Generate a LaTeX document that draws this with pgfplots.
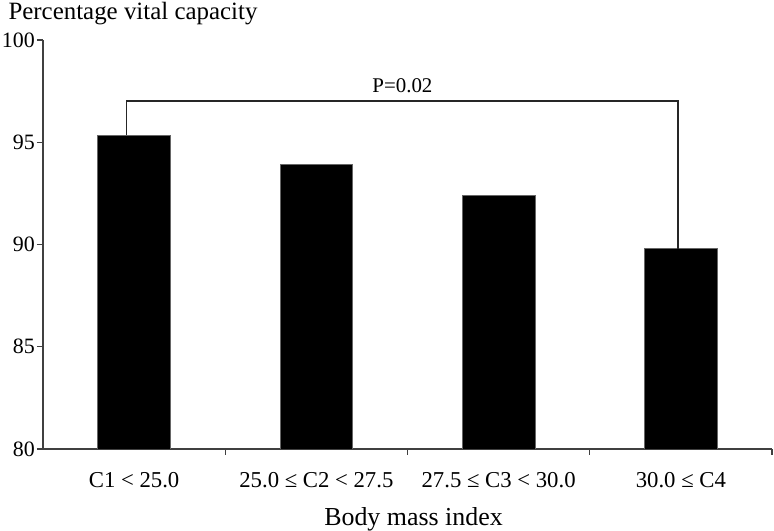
\documentclass[border=0pt]{standalone}
\usepackage{pgfplots}
\pgfplotsset{compat=1.18}
\usepackage{fontspec}
\setmainfont{Liberation Serif}
\begin{document}
\begin{tikzpicture}[x=1bp,y=1bp]
\path[use as bounding box] (-43,-82) rectangle (731,449);
\begin{axis}[
  at={(0,0)}, anchor=south west,
  scale only axis, width=729bp, height=409bp,
  xmin=-0.5, xmax=3.5, ymin=80, ymax=100,
  axis x line=bottom, axis y line=left,
  axis line style={-, line width=1.1bp, black!75},
  tick align=outside,
  major tick length=6bp,
  tick style={line width=1.1bp, black!75},
  ytick={80,85,90,95,100},
  /pgf/number format/assume math mode=true,
  yticklabel style={font=\fontsize{22}{22}\selectfont, inner sep=2bp},
  xtick={0.5,1.5,2.5,3.5},
  xticklabels={},
  extra x ticks={0,1,2,3},
  extra x tick labels={C1 < 25.0, 25.0 ≤ C2 < 27.5, 27.5 ≤ C3 < 30.0, 30.0 ≤ C4},
  extra x tick style={major tick length=0pt, tick style={draw=none},
    tick label style={anchor=base, yshift=-39bp, font=\fontsize{22.8}{22.8}\selectfont}},
  xlabel={Body mass index},
  xlabel style={at={(axis description cs:0.5,0)}, anchor=base, yshift=-77bp, xshift=6bp,
    font=\fontsize{26}{26}\selectfont},
  ylabel={Percentage vital capacity},
  ylabel style={rotate=-90, at={(axis description cs:0,1)}, anchor=base west,
    xshift=-38bp, yshift=20bp, font=\fontsize{25}{25}\selectfont},
]
\addplot[ybar, bar width=0.398, fill=black, draw=black!60, line width=0.8bp]
  coordinates {(0,95.35) (1,93.90) (2,92.39) (3,89.79)};
\addplot[black!85, line width=1.3bp, sharp plot, mark=none]
  coordinates {(-0.04,95.35) (-0.04,97.02) (2.984,97.02) (2.984,89.79)};
\node[anchor=base, font=\fontsize{21}{21}\selectfont, yshift=8bp] at (axis cs:1.472,97.02) {P=0.02};
\end{axis}
\end{tikzpicture}
\end{document}
